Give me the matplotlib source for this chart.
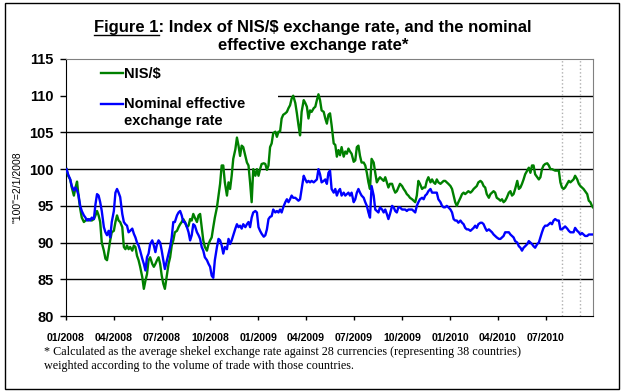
import matplotlib
matplotlib.use("Agg")
import matplotlib.pyplot as plt
import pandas as pd
from matplotlib.lines import Line2D
from matplotlib.patches import Rectangle

plt.rcParams["font.family"] = ["Liberation Sans", "DejaVu Sans"]

# days after 01/01/2008 (index "100" = 2/1/2008)
start = pd.Timestamp("2008-01-01")
days = [
    1, 4, 8, 11, 15, 18, 21, 24, 27, 30, 34, 37, 40, 43, 46, 49, 53, 56, 59, 62,
    65, 68, 72, 75, 78, 81, 84, 87, 91, 94, 97, 100, 103, 107, 110, 113, 116, 119, 122, 126,
    129, 132, 135, 138, 141, 145, 148, 151, 154, 157, 160, 164, 167, 170, 173, 176, 179,
    182, 185, 188, 192, 195, 198, 201, 204, 207, 211, 214, 217, 220, 223, 226, 230, 233, 236, 239, 242,
    245, 249, 252, 255, 258, 261, 264, 268, 271, 274, 277, 280, 283, 287, 290, 293, 296, 299, 302, 306,
    309, 312, 315, 318, 322, 325, 328, 331, 334, 337, 341, 344, 347, 350, 353, 356, 360, 363, 366, 369,
    372, 376, 379, 382, 385, 388,
    391, 394, 398, 401, 404, 407, 410, 413, 417, 420, 423, 426, 429, 432, 436, 439, 442, 445, 448, 452,
    455, 458, 461, 464, 467, 471, 474, 477, 480, 483, 486, 490, 493, 496, 499, 502, 505, 509, 512, 515,
    518, 521, 524, 528, 531, 534, 537, 540, 543, 547, 550, 553, 556, 559, 562, 566, 569, 572, 575, 578,
    581, 585, 588,
    591, 594, 597, 601, 604, 607, 610, 613, 616, 620, 623, 626, 629, 632, 635, 639, 642, 645, 648, 651,
    654, 658, 661, 664, 667, 670, 673, 677, 680, 683, 686, 689, 693, 696, 699, 702, 705, 708, 712, 715,
    718, 721, 724, 727, 731, 734, 737, 740, 743, 746, 750, 753, 756, 759, 762, 765, 769, 772, 775, 778,
    781, 784, 788,
    791, 794, 797, 800, 804, 807, 810, 813, 816, 819, 823, 826, 829, 832, 835, 838, 842, 845, 848, 851,
    854, 858, 861, 864, 867, 870, 873, 877, 880, 883, 886, 889, 892, 896, 899, 902, 905, 908, 911, 915,
    918, 921, 924, 927, 930, 934, 937, 940, 943, 946, 949, 953, 956, 959, 962, 965, 968, 972, 975, 978,
    981, 984, 987, 991, 994, 997, 1000, 1002,
]

nis_usd = [
    100.0, 99.1, 98.6, 97.5, 96.4, 97.5, 98.3, 96.2, 94.6, 93.4, 92.8, 93.0, 93.2, 93.0, 93.2, 93.0, 93.2, 93.7, 94.3, 93.7,
    92.8, 90.0, 88.9, 87.8, 87.6, 88.9, 90.3, 91.4, 91.6, 92.8, 93.7, 93.0, 92.8, 92.1, 89.4, 89.1, 89.6, 89.1, 89.4, 88.9,
    89.6, 89.4, 88.2, 87.6, 86.7, 85.3, 83.7, 84.8, 85.7, 87.6, 88.0, 87.1, 86.7, 87.1, 87.6, 88.0, 87.1,
    85.5, 84.4, 83.7, 85.7, 87.1, 88.0, 89.6, 90.3, 91.4, 91.6, 92.1, 92.5, 92.8, 93.2, 92.8, 92.1, 92.3, 93.2, 93.0, 93.9,
    93.4, 92.8, 93.7, 93.9, 92.1, 90.3, 89.4, 88.9, 89.8, 90.3, 90.7, 92.1, 93.4, 94.8, 96.4, 98.0, 100.5, 100.5, 98.2, 96.4,
    98.2, 97.3, 99.1, 101.4, 102.7, 104.3, 103.2, 101.8, 103.2, 103.0, 101.8, 100.9, 100.5, 98.2, 95.5, 100.0, 99.1, 100.0, 99.1, 100.0,
    100.7, 100.8, 100.7, 99.9, 100.5, 103.0,
    103.5, 104.9, 105.1, 104.4, 105.1, 105.1, 106.9, 107.4, 107.6, 107.8, 108.3, 108.7, 109.6, 110.0, 109.0, 107.6, 106.0, 104.6, 107.8, 109.4,
    109.0, 108.5, 106.9, 108.0, 107.8, 108.3, 108.5, 109.4, 110.2, 109.4, 108.0, 107.8, 106.9, 106.2, 107.4, 107.6, 106.0, 103.5, 103.3, 101.7,
    102.6, 101.9, 103.0, 101.7, 102.4, 102.1, 102.8, 102.4, 102.1, 101.0, 101.2, 103.0, 103.2, 101.8, 100.9, 100.9, 100.5, 99.5, 98.2, 97.3,
    101.4, 100.9, 99.5,
    98.2, 98.6, 98.9, 98.6, 98.4, 98.9, 98.2, 97.5, 98.0, 98.0, 97.3, 96.8, 97.0, 97.5, 98.0, 97.7, 97.3, 97.0, 96.6, 96.4,
    96.1, 95.9, 95.7, 95.5, 96.4, 98.4, 98.0, 97.3, 97.5, 97.5, 98.4, 98.9, 98.2, 98.6, 98.2, 98.0, 98.6, 98.2, 98.0, 98.2,
    98.4, 98.4, 98.2, 98.0, 97.7, 97.3, 96.4, 95.5, 95.0, 95.5, 96.1, 96.6, 96.8, 96.6, 96.8, 97.0, 96.8, 97.0, 97.3, 97.5,
    97.7, 98.2, 98.4,
    98.2, 97.7, 97.5, 96.6, 96.1, 96.6, 96.8, 97.0, 96.8, 96.1, 95.9, 95.7, 95.9, 95.5, 95.7, 96.1, 96.8, 97.0, 96.4, 96.6,
    97.3, 98.4, 97.3, 97.5, 98.0, 98.6, 99.3, 99.8, 100.2, 99.5, 100.5, 100.5, 99.3, 98.9, 98.6, 98.9, 100.0, 100.5, 100.7, 100.8,
    100.5, 100.0, 100.0, 99.9, 99.8, 99.8, 99.8, 98.2, 97.5, 97.3, 97.5, 98.0, 98.4, 98.2, 98.4, 98.6, 99.1, 98.6, 98.0, 97.7,
    97.5, 97.3, 97.0, 96.6, 95.7, 95.5, 95.0, 94.8,
]

neer = [
    100.0, 99.3, 98.6, 97.7, 97.1, 97.5, 97.1, 96.4, 95.0, 94.3, 93.7, 93.4, 93.0, 93.2, 93.0, 93.4, 93.2, 95.2, 96.6, 96.4,
    95.5, 94.3, 92.1, 91.4, 91.0, 91.6, 90.7, 92.8, 94.3, 96.8, 97.3, 96.8, 96.2, 93.9, 92.8, 92.5, 92.3, 91.4, 91.6, 91.9,
    91.2, 90.7, 90.0, 89.6, 88.9, 87.8, 87.1, 86.2, 88.0, 88.5, 89.8, 90.3, 89.6, 88.7, 89.8, 90.3, 90.0,
    88.9, 87.6, 86.4, 87.6, 88.5, 89.4, 90.7, 92.8, 92.8, 93.7, 94.1, 94.3, 93.7, 92.8, 92.8, 92.1, 91.4, 90.3, 91.0, 92.5,
    92.3, 91.4, 91.0, 90.5, 89.4, 88.9, 88.0, 87.6, 87.1, 86.7, 85.5, 85.2, 87.6, 89.4, 90.5, 90.3, 89.6, 88.5, 89.4, 89.1,
    90.5, 89.8, 90.3, 91.0, 91.9, 92.5, 92.1, 92.3, 91.9, 92.5, 92.1, 92.5, 92.8, 92.1, 93.4, 94.1, 94.3, 94.1, 92.1, 91.6,
    91.2, 90.8, 91.0, 91.8, 93.2, 93.5,
    93.6, 94.5, 94.1, 94.3, 94.1, 94.5, 94.1, 94.8, 95.5, 95.9, 95.5, 95.9, 96.4, 96.1, 96.1, 95.9, 95.7, 95.9, 97.3, 99.1,
    98.6, 98.2, 98.4, 98.2, 98.4, 98.2, 98.4, 98.6, 100.0, 99.3, 98.2, 98.4, 98.6, 98.0, 99.5, 99.8, 97.3, 96.8, 97.3, 96.4,
    97.0, 97.3, 96.4, 96.8, 96.4, 96.6, 96.8, 96.4, 96.8, 95.5, 95.9, 96.8, 97.3, 96.8, 96.4, 96.1, 95.5, 95.0, 94.1, 93.4,
    97.7, 96.4, 94.5,
    94.3, 94.1, 94.8, 94.5, 94.1, 94.5, 93.9, 93.2, 93.9, 95.0, 94.8, 94.3, 94.1, 94.8, 94.8, 94.5, 94.5, 94.5, 94.3, 94.5,
    94.5, 94.5, 94.3, 94.1, 95.0, 95.5, 95.9, 96.1, 95.9, 96.4, 96.6, 97.0, 97.3, 96.8, 96.8, 96.8, 96.8, 95.9, 95.5, 95.0,
    94.8, 94.8, 95.0, 94.8, 94.5, 94.1, 93.2, 93.0, 93.0, 92.7, 93.0, 92.7, 92.5, 92.0, 91.8, 91.8, 91.6, 91.8, 92.0, 92.3,
    92.0, 92.5, 92.7,
    92.7, 92.5, 92.0, 91.6, 91.8, 91.6, 91.4, 91.1, 90.9, 90.7, 90.5, 90.5, 90.7, 90.9, 91.4, 91.4, 91.4, 91.1, 90.9, 90.7,
    90.2, 90.0, 89.5, 89.3, 88.9, 89.3, 89.5, 89.8, 90.2, 90.0, 89.8, 89.5, 89.3, 89.8, 90.0, 90.7, 91.4, 92.0, 92.3, 92.3,
    92.5, 92.7, 92.5, 93.0, 93.2, 93.0, 93.0, 91.8, 91.8, 92.0, 92.2, 91.9, 91.6, 91.4, 91.4, 91.4, 92.0, 91.6, 91.4, 91.1,
    91.3, 91.1, 90.9, 90.9, 91.1, 91.1, 91.1, 91.1,
]

tick_dates = ["2008-01-01", "2008-04-01", "2008-07-01", "2008-10-01", "2009-01-01", "2009-04-01",
              "2009-07-01", "2009-10-01", "2010-01-01", "2010-04-01", "2010-07-01"]
tick_labels = ["01/2008", "04/2008", "07/2008", "10/2008", "01/2009", "04/2009",
               "07/2009", "10/2009", "01/2010", "04/2010", "07/2010"]
y_ticks = [80, 85, 90, 95, 100, 105, 110, 115]
marker_dates = ["2010-08-02", "2010-09-05"]
x_end = "2010-09-29"

dates = start + pd.to_timedelta(days, unit="D")

fig = plt.figure(figsize=(6.26, 3.91), dpi=100)
fig.patches.append(Rectangle((5 / 626, 2 / 391), 614 / 626, 386 / 391, transform=fig.transFigure,
                             fill=False, edgecolor="black", linewidth=1))
ax = fig.add_axes([66 / 626, 75 / 391, 527 / 626, 257 / 391])

ax.plot(dates, nis_usd, color="#008000", lw=1.7, label="NIS/$", zorder=3)
ax.plot(dates, neer, color="#0000FF", lw=1.7, label="Nominal effective\nexchange rate", zorder=3)
for d in marker_dates:
    ax.axvline(pd.Timestamp(d), color="#b0b0b0", ls=":", lw=1, zorder=2)

ax.set_ylim(80, 115)
ax.set_xlim(start, pd.Timestamp(x_end))
ax.set_yticks(y_ticks, labels=[str(v) for v in y_ticks], fontsize=10.5, fontweight="bold")
ax.set_xticks(pd.to_datetime(tick_dates), labels=tick_labels, fontsize=7.6, fontweight="bold")
ax.tick_params(axis="y", direction="out", length=4, width=1, pad=5)
ax.tick_params(axis="x", direction="out", length=3, width=1, pad=9)

ax.set_axisbelow(True)
ax.grid(axis="y", color="black", lw=1)
gl = ax.get_ygridlines()
gl[0].set_visible(False)
gl[-1].set_visible(False)
for side in ("top", "right"):
    ax.spines[side].set_color("#808080")
for side in ("left", "bottom"):
    ax.spines[side].set_color("black")

ax.add_patch(Rectangle((0, 0.76), 0.402, 0.235, transform=ax.transAxes, facecolor="white",
                       edgecolor="none", zorder=1))
leg = ax.legend(loc="upper left", bbox_to_anchor=(0.055, 0.993), frameon=False,
                prop={"weight": "bold", "size": 10.5}, handlelength=1.5, handletextpad=0.1,
                labelspacing=1.15, borderaxespad=0)
leg.get_texts()[1].set_linespacing(1.25)
# put the blue handle level with the first line of its two-line label
blue_handle = leg.get_lines()[1]
blue_handle.set_ydata([y + 6.6 for y in blue_handle.get_ydata()])

ax.set_ylabel('"100"=2/1/2008', fontsize=7.5)
ax.yaxis.set_label_coords(-0.082, 0.5)

title = fig.text(0.5, 1 - 32 / 391, "Figure 1: Index of NIS/$ exchange rate, and the nominal",
                 ha="center", va="baseline", fontsize=12, fontweight="bold")
fig.text(0.5, 1 - 50 / 391, "effective exchange rate*", ha="center", va="baseline",
         fontsize=12, fontweight="bold")
fig.canvas.draw()
renderer = fig.canvas.get_renderer()
bb = title.get_window_extent(renderer)
probe = fig.text(0, 0, "Figure 1", fontsize=12, fontweight="bold")
w = probe.get_window_extent(renderer).width
probe.remove()
uy = (391 - 35) / 391
fig.add_artist(Line2D([bb.x0 / 626, (bb.x0 + w) / 626], [uy, uy], transform=fig.transFigure,
                      color="black", lw=1))

fig.text(44 / 626, 1 - 352 / 391,
         "* Calculated as the average shekel exchange rate against 28 currencies (representing 38 countries)",
         ha="left", va="center", fontsize=8.7, family=["Liberation Serif", "DejaVu Serif"])
fig.text(44 / 626, 1 - 366 / 391, "weighted according to the volume of trade with those countries.",
         ha="left", va="center", fontsize=8.7, family=["Liberation Serif", "DejaVu Serif"])

fig.savefig("out.png", dpi=100)
